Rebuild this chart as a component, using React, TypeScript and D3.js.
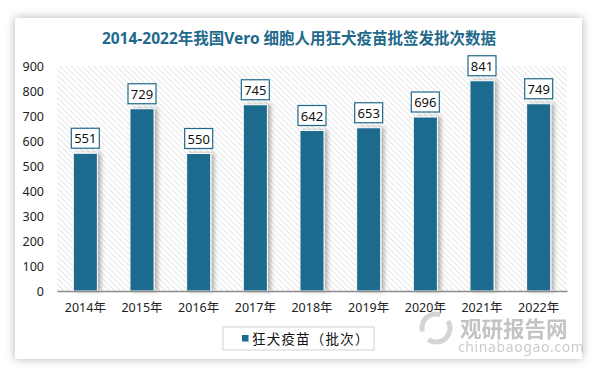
import React, { useRef, useEffect } from "react";
import * as d3 from "d3";

const years = ["2014年", "2015年", "2016年", "2017年", "2018年", "2019年", "2020年", "2021年", "2022年"];
const batches = [551, 729, 550, 745, 642, 653, 696, 841, 749];
const yTicks = [0, 100, 200, 300, 400, 500, 600, 700, 800, 900];
const seriesName = "狂犬疫苗（批次）";
const title = "2014-2022年我国Vero 细胞人用狂犬疫苗批签发批次数据";

const W = 595;
const H = 370;
const barColor = "#1d6b8e";
const titleColor = "#1f6a8c";
const font = "'Noto Sans', 'Noto Sans CJK SC', sans-serif";

const App = () => {
  const svgRef = useRef<SVGSVGElement>(null);

  useEffect(() => {
    const svg = d3.select(svgRef.current);
    svg.selectAll("*").remove();

    const defs = svg.append("defs");
    // card shadow
    const cardShadow = defs.append("filter").attr("id", "cardShadow")
      .attr("x", "-10%").attr("y", "-10%").attr("width", "120%").attr("height", "120%");
    cardShadow.append("feDropShadow").attr("dx", 0).attr("dy", 0)
      .attr("stdDeviation", 5).attr("flood-color", "#000").attr("flood-opacity", 0.3);
    // bar shadow
    const barShadow = defs.append("filter").attr("id", "barShadow")
      .attr("x", "-30%").attr("y", "-10%").attr("width", "180%").attr("height", "120%");
    barShadow.append("feDropShadow").attr("dx", 3).attr("dy", 0)
      .attr("stdDeviation", 2).attr("flood-color", "#000").attr("flood-opacity", 0.3);
    // hatch pattern, lines running top-left to bottom-right
    const pat = defs.append("pattern").attr("id", "hatch")
      .attr("patternUnits", "userSpaceOnUse").attr("width", 4).attr("height", 4)
      .attr("patternTransform", "rotate(45)");
    pat.append("rect").attr("width", 4).attr("height", 4).attr("fill", "#fff");
    pat.append("line").attr("x1", 0).attr("y1", 0).attr("x2", 4).attr("y2", 0)
      .attr("stroke", "#d6d6d6").attr("stroke-width", 1.2);

    // card
    svg.append("rect").attr("x", 15).attr("y", 18).attr("width", 567).attr("height", 341)
      .attr("fill", "#fff").attr("filter", "url(#cardShadow)");

    svg.append("text").attr("x", 299).attr("y", 44).attr("text-anchor", "middle")
      .attr("font-family", font).attr("font-size", 15.5).attr("font-weight", "bold")
      .attr("fill", titleColor).text(title);

    const margin = { left: 57, right: 567, top: 66, bottom: 291 };
    const x = d3.scaleBand().domain(years).range([margin.left, margin.right]).paddingInner(0.575).paddingOuter(0.2875);
    const y = d3.scaleLinear().domain([0, 900]).range([margin.bottom, margin.top]);

    // hatched plot background
    svg.append("rect").attr("x", margin.left).attr("y", margin.top)
      .attr("width", margin.right - margin.left).attr("height", margin.bottom - margin.top)
      .attr("fill", "url(#hatch)");

    // y axis labels
    const yAxis = svg.append("g").attr("transform", `translate(${margin.left},0)`)
      .call(d3.axisLeft(y).tickValues(yTicks).tickSize(0).tickPadding(13));
    yAxis.select(".domain").remove();
    yAxis.selectAll("text").attr("font-family", font).attr("font-size", 12.5).attr("fill", "#222");

    // bars
    svg.append("g").selectAll("rect").data(batches).join("rect")
      .attr("x", (d, i) => x(years[i]) as number)
      .attr("y", (d) => y(d))
      .attr("width", x.bandwidth())
      .attr("height", (d) => y(0) - y(d))
      .attr("fill", barColor)
      .attr("stroke", "#fff").attr("stroke-width", 1)
      .attr("filter", "url(#barShadow)");

    // x axis
    const xAxis = svg.append("g").attr("transform", `translate(0,${margin.bottom})`)
      .call(d3.axisBottom(x).tickSize(0).tickPadding(12));
    xAxis.select(".domain").attr("stroke", "#8c8c8c").attr("stroke-width", 1.3);
    xAxis.selectAll("text").attr("font-family", font).attr("font-size", 12.5).attr("fill", "#222");

    // value labels
    const lbl = svg.append("g").selectAll("g").data(batches).join("g")
      .attr("transform", (d, i) => `translate(${(x(years[i]) as number) + x.bandwidth() / 2},${y(d) - 5})`);
    lbl.append("rect").attr("x", -14).attr("y", -20).attr("width", 28).attr("height", 20)
      .attr("fill", "#fff").attr("stroke", titleColor).attr("stroke-width", 1.2);
    lbl.append("text").attr("y", -5).attr("text-anchor", "middle")
      .attr("font-family", font).attr("font-size", 13).attr("fill", "#111").text((d) => d);

    // legend
    svg.append("rect").attr("x", 223).attr("y", 327).attr("width", 151).attr("height", 23)
      .attr("fill", "#fff").attr("stroke", "#d9d9d9").attr("stroke-width", 1.2);
    svg.append("rect").attr("x", 242).attr("y", 335).attr("width", 6.5).attr("height", 6.5).attr("fill", barColor);
    svg.append("text").attr("x", 252).attr("y", 343.5).attr("letter-spacing", 1.2)
      .attr("font-family", font).attr("font-size", 13.5).attr("fill", "#111").text(seriesName);

    // watermark
    const wm = svg.append("g").attr("opacity", 0.5);
    wm.append("circle").attr("cx", 436).attr("cy", 328).attr("r", 14)
      .attr("fill", "none").attr("stroke", "#aaa").attr("stroke-width", 5).attr("stroke-dasharray", "30 10");
    wm.append("text").attr("x", 460).attr("y", 337)
      .attr("font-family", font).attr("font-size", 21.5).attr("font-weight", "bold").attr("fill", "#888").text("观研报告网");
    wm.append("text").attr("x", 458).attr("y", 352).attr("letter-spacing", 0.6)
      .attr("font-family", font).attr("font-size", 14).attr("fill", "#999").text("chinabaogao.com");
  }, []);

  return (
    <svg ref={svgRef} width={W} height={H}
      style={{ position: "absolute", left: 0, top: 0, background: "#fff" }} />
  );
};

export default App;
